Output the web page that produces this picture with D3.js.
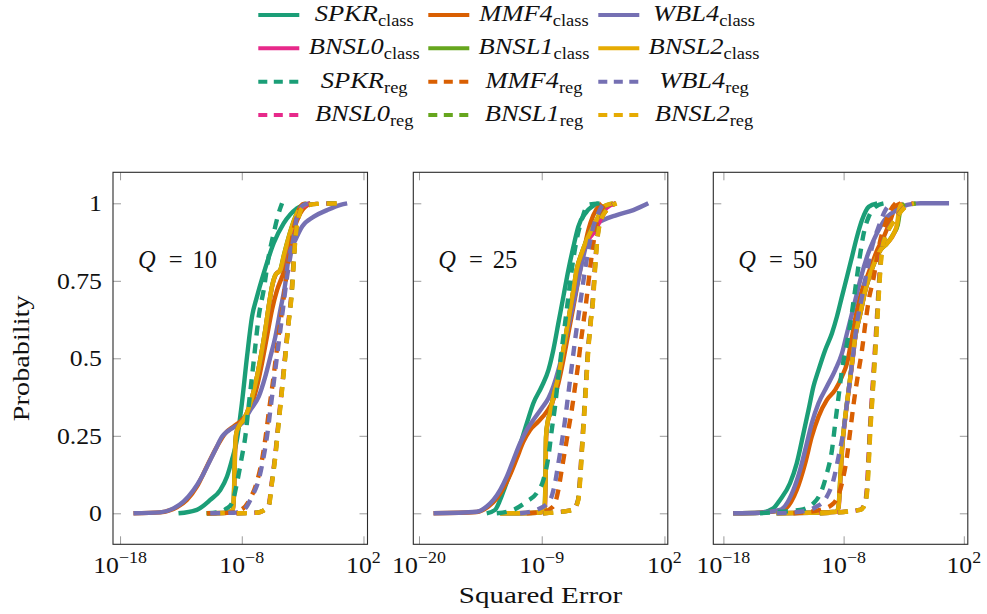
<!DOCTYPE html>
<html>
<head>
<meta charset="utf-8">
<script src="https://cdn.jsdelivr.net/npm/d3@7"></script>
<style>
  body { margin: 0; background: #fff; }
  svg { display: block; }
</style>
</head>
<body>
<svg id="chart" width="987" height="614"></svg>
<script>
// ---- data: empirical CDFs, points are [log10(squared error), probability] ----
const qValues = [10, 25, 50];
const methods = ["SPKR", "MMF4", "WBL4", "BNSL0", "BNSL1", "BNSL2"];
const kinds = ["class", "reg"];
const methodColors = ["#1b9e77", "#d95f02", "#7570b3", "#e7298a", "#66a61e", "#e6ab02"];
const yTickValues = [0, 0.25, 0.5, 0.75, 1];
const yTickLabels = ["0", "0.25", "0.5", "0.75", "1"];
const xTickExponents = [[-18, -8, 2], [-20, -9, 2], [-18, -8, 2]];
const xRangeExponents = [[-18.58, 2.33], [-20.51, 2.30], [-18.84, 2.33]];

// Q = 10
const q10_SPKR_class = [[-13.2,0],[-11.69,0.011],[-10.59,0.043],[-9.77,0.075],[-9.22,0.118],[-8.81,0.172],[-8.40,0.237],[-7.99,0.355],[-7.57,0.505],[-7.16,0.634],[-6.75,0.699],[-6.20,0.774],[-5.38,0.871],[-4.56,0.935],[-3.46,0.984],[-2.36,1]];
const q10_MMF4_class = [[-16.9,0],[-14.71,0.003],[-13.34,0.019],[-12.51,0.043],[-11.69,0.086],[-10.87,0.151],[-10.04,0.215],[-9.36,0.258],[-8.67,0.280],[-7.99,0.301],[-7.30,0.339],[-6.75,0.409],[-6.34,0.484],[-5.93,0.570],[-5.52,0.656],[-5.10,0.720],[-4.69,0.763],[-4.42,0.796],[-4.15,0.849],[-3.73,0.914],[-3.19,0.968],[-2.36,1]];
const q10_WBL4_class = [[-16.9,0],[-14.71,0.003],[-13.61,0.016],[-12.79,0.038],[-11.96,0.075],[-11.28,0.118],[-10.73,0.161],[-10.18,0.204],[-9.63,0.247],[-9.22,0.263],[-8.53,0.280],[-7.99,0.290],[-7.30,0.333],[-6.61,0.376],[-6.07,0.441],[-5.65,0.505],[-5.24,0.570],[-4.83,0.656],[-4.42,0.742],[-4.14,0.828],[-3.59,0.882],[-3.04,0.925],[-2.08,0.957],[-0.99,0.978],[0.11,0.995],[0.66,1]];
const q10_BNSL0_class = [[-10.8,0],[-9.2,0.002],[-8.72,0.012],[-8.61,0.09],[-8.55,0.196],[-8.44,0.26],[-8.16,0.287],[-7.83,0.303],[-7.28,0.358],[-6.73,0.444],[-6.32,0.53],[-6.05,0.594],[-5.77,0.67],[-5.5,0.733],[-5.21,0.77],[-4.8,0.787],[-4.52,0.83],[-4.24,0.873],[-3.83,0.927],[-3.25,0.979],[-2.4,1]];
const q10_BNSL1_class = [[-10.9,0],[-9.25,0.002],[-8.74,0.01],[-8.63,0.084],[-8.57,0.192],[-8.46,0.256],[-8.19,0.284],[-7.86,0.3],[-7.31,0.353],[-6.76,0.439],[-6.35,0.525],[-6.08,0.589],[-5.8,0.665],[-5.53,0.73],[-5.25,0.768],[-4.85,0.784],[-4.58,0.827],[-4.3,0.87],[-3.9,0.924],[-3.36,0.977],[-2.7,1]];
const q10_BNSL2_class = [[-10.87,0],[-9.22,0.002],[-8.73,0.011],[-8.62,0.086],[-8.56,0.194],[-8.45,0.258],[-8.18,0.285],[-7.85,0.301],[-7.30,0.355],[-6.75,0.441],[-6.34,0.527],[-6.07,0.591],[-5.79,0.667],[-5.52,0.731],[-5.24,0.769],[-4.83,0.785],[-4.56,0.828],[-4.28,0.871],[-3.87,0.925],[-3.32,0.978],[-2.64,1]];
const q10_SPKR_reg = [[-10.87,0],[-9.77,0.005],[-9.22,0.016],[-8.81,0.032],[-8.40,0.097],[-7.99,0.183],[-7.71,0.247],[-7.44,0.344],[-7.16,0.441],[-6.89,0.538],[-6.61,0.634],[-6.20,0.720],[-5.79,0.828],[-5.38,0.903],[-4.97,0.968],[-4.69,1]];
const q10_MMF4_reg = [[-10.87,0],[-8.95,0.002],[-7.99,0.013],[-7.30,0.048],[-6.75,0.102],[-6.34,0.172],[-6.04,0.247],[-5.76,0.333],[-5.46,0.419],[-5.19,0.505],[-4.91,0.591],[-4.61,0.677],[-4.34,0.763],[-4.06,0.839],[-3.79,0.903],[-3.46,0.962],[-2.91,0.998],[-2.5,1]];
const q10_WBL4_reg = [[-10.59,0],[-8.67,0.002],[-7.85,0.011],[-7.16,0.054],[-6.61,0.108],[-6.20,0.183],[-5.93,0.247],[-5.65,0.333],[-5.38,0.419],[-5.11,0.505],[-4.83,0.591],[-4.56,0.677],[-4.28,0.763],[-4.01,0.828],[-3.73,0.892],[-3.46,0.957],[-2.91,0.995],[-2.36,1]];
const q10_BNSL0_reg = [[-8.45,0],[-6.78,0.002],[-5.82,0.022],[-5.55,0.097],[-5.27,0.183],[-5.0,0.290],[-4.72,0.398],[-4.45,0.505],[-4.18,0.613],[-3.9,0.720],[-3.76,0.806],[-3.63,0.882],[-3.35,0.957],[-2.95,0.989],[-1.9,0.998],[0.3,1]];
const q10_BNSL1_reg = [[-8.42,0],[-6.76,0.002],[-5.8,0.022],[-5.53,0.097],[-5.25,0.183],[-4.98,0.290],[-4.7,0.398],[-4.43,0.505],[-4.16,0.613],[-3.88,0.720],[-3.74,0.806],[-3.61,0.882],[-3.33,0.957],[-2.93,0.989],[-1.85,0.998],[0.33,1]];
const q10_BNSL2_reg = [[-8.40,0],[-6.75,0.002],[-5.79,0.022],[-5.52,0.097],[-5.24,0.183],[-4.97,0.290],[-4.69,0.398],[-4.42,0.505],[-4.15,0.613],[-3.87,0.720],[-3.73,0.806],[-3.60,0.882],[-3.32,0.957],[-2.91,0.989],[-1.81,0.998],[0.38,1]];

// Q = 25
const q25_SPKR_class = [[-13.93,0],[-13.18,0.011],[-12.73,0.043],[-12.28,0.086],[-11.84,0.129],[-11.09,0.204],[-10.34,0.290],[-9.75,0.355],[-9.0,0.409],[-8.40,0.462],[-7.96,0.527],[-7.51,0.613],[-7.06,0.699],[-6.61,0.785],[-6.16,0.860],[-5.72,0.925],[-4.97,0.973],[-3.93,1]];
const q25_MMF4_class = [[-18.7,0],[-14.82,0.004],[-13.78,0.022],[-13.03,0.048],[-12.43,0.081],[-11.84,0.124],[-11.24,0.177],[-10.64,0.231],[-10.04,0.269],[-9.30,0.296],[-8.55,0.328],[-7.96,0.366],[-7.51,0.419],[-7.06,0.495],[-6.61,0.581],[-6.16,0.667],[-5.72,0.753],[-5.27,0.839],[-4.82,0.914],[-4.37,0.962],[-3.63,1]];
const q25_WBL4_class = [[-18.7,0],[-14.82,0.005],[-13.93,0.022],[-13.33,0.043],[-12.73,0.075],[-12.13,0.118],[-11.54,0.172],[-10.94,0.226],[-10.34,0.269],[-9.75,0.301],[-9.0,0.339],[-8.40,0.371],[-7.96,0.409],[-7.51,0.462],[-7.06,0.527],[-6.61,0.602],[-6.16,0.677],[-5.72,0.753],[-5.27,0.828],[-4.82,0.892],[-4.37,0.925],[-3.48,0.946],[-2.28,0.962],[-0.79,0.978],[0.55,1]];
const q25_BNSL0_class = [[-12.7,0],[-9.43,0.002],[-8.74,0.006],[-8.66,0.088],[-8.6,0.25],[-8.47,0.292],[-8.23,0.325],[-7.94,0.378],[-7.49,0.443],[-7.04,0.529],[-6.74,0.593],[-6.44,0.658],[-6.14,0.722],[-5.85,0.787],[-5.4,0.84],[-4.93,0.878],[-4.2,0.912],[-3.7,0.95],[-3.2,0.985],[-2.4,1]];
const q25_BNSL1_class = [[-12.75,0],[-9.47,0.002],[-8.78,0.006],[-8.68,0.085],[-8.62,0.245],[-8.5,0.289],[-8.26,0.322],[-7.97,0.375],[-7.52,0.44],[-7.07,0.526],[-6.77,0.59],[-6.47,0.655],[-6.17,0.719],[-5.88,0.784],[-5.43,0.838],[-4.98,0.881],[-4.4,0.924],[-3.95,0.956],[-3.5,0.988],[-2.62,1]];
const q25_BNSL2_class = [[-12.73,0],[-9.45,0.002],[-8.76,0.006],[-8.67,0.086],[-8.61,0.247],[-8.49,0.290],[-8.25,0.323],[-7.96,0.376],[-7.51,0.441],[-7.06,0.527],[-6.76,0.591],[-6.46,0.656],[-6.16,0.720],[-5.87,0.785],[-5.42,0.839],[-4.97,0.882],[-4.37,0.925],[-3.93,0.957],[-3.48,0.989],[-2.58,1]];
const q25_SPKR_reg = [[-13.03,0],[-11.54,0.011],[-10.34,0.038],[-9.45,0.065],[-8.85,0.108],[-8.40,0.183],[-8.10,0.269],[-7.81,0.344],[-7.51,0.441],[-7.21,0.527],[-6.91,0.613],[-6.61,0.699],[-6.31,0.785],[-5.87,0.882],[-5.42,0.946],[-4.82,0.995],[-3.78,1]];
const q25_MMF4_reg = [[-10.34,0],[-8.85,0.005],[-7.96,0.022],[-7.51,0.075],[-7.21,0.140],[-6.91,0.204],[-6.61,0.269],[-6.31,0.333],[-6.01,0.409],[-5.72,0.484],[-5.51,0.548],[-5.27,0.613],[-5.03,0.677],[-4.82,0.742],[-4.61,0.806],[-4.37,0.871],[-4.13,0.925],[-3.78,0.968],[-3.18,1]];
const q25_WBL4_reg = [[-10.94,0],[-9.45,0.011],[-8.25,0.043],[-7.81,0.097],[-7.51,0.161],[-7.21,0.226],[-6.91,0.301],[-6.61,0.387],[-6.31,0.473],[-6.01,0.559],[-5.72,0.634],[-5.42,0.710],[-5.12,0.785],[-4.82,0.849],[-4.37,0.925],[-3.93,0.968],[-3.48,0.995],[-2.88,1]];
const q25_BNSL0_reg = [[-8.9,0],[-6.2,0.011],[-5.75,0.043],[-5.6,0.097],[-5.45,0.183],[-5.3,0.269],[-5.15,0.355],[-5.0,0.441],[-4.85,0.527],[-4.64,0.613],[-4.4,0.699],[-4.25,0.785],[-4.1,0.860],[-3.82,0.935],[-3.22,0.978],[-2.35,1]];
const q25_BNSL1_reg = [[-8.87,0],[-6.18,0.011],[-5.74,0.043],[-5.59,0.097],[-5.44,0.183],[-5.29,0.269],[-5.14,0.355],[-4.99,0.441],[-4.84,0.527],[-4.63,0.613],[-4.39,0.699],[-4.24,0.785],[-4.09,0.860],[-3.8,0.935],[-3.2,0.978],[-2.32,1]];
const q25_BNSL2_reg = [[-8.85,0],[-6.16,0.011],[-5.72,0.043],[-5.57,0.097],[-5.42,0.183],[-5.27,0.269],[-5.12,0.355],[-4.97,0.441],[-4.82,0.527],[-4.61,0.613],[-4.37,0.699],[-4.22,0.785],[-4.07,0.860],[-3.78,0.935],[-3.18,0.978],[-2.28,1]];

// Q = 50
const q50_SPKR_class = [[-17.19,0],[-14.96,0.002],[-13.85,0.016],[-13.29,0.043],[-12.46,0.097],[-11.90,0.161],[-11.34,0.258],[-10.92,0.333],[-10.51,0.409],[-10.09,0.462],[-9.53,0.527],[-8.97,0.581],[-8.56,0.634],[-8.14,0.699],[-7.72,0.763],[-7.30,0.828],[-6.89,0.892],[-6.47,0.946],[-5.91,0.989],[-5.21,1]];
const q50_MMF4_class = [[-17.19,0],[-14.96,0.002],[-13.01,0.011],[-11.90,0.075],[-11.20,0.161],[-10.65,0.247],[-10.09,0.312],[-9.39,0.366],[-8.70,0.398],[-8.14,0.441],[-7.72,0.484],[-7.30,0.570],[-6.89,0.656],[-6.47,0.720],[-6.05,0.763],[-5.63,0.806],[-5.21,0.849],[-4.66,0.892],[-4.10,0.946],[-3.68,0.989],[-3.26,1]];
const q50_WBL4_class = [[-17.19,0],[-14.96,0.002],[-13.29,0.011],[-12.18,0.075],[-11.62,0.140],[-11.06,0.226],[-10.65,0.290],[-10.09,0.355],[-9.39,0.409],[-8.70,0.462],[-8.14,0.516],[-7.72,0.581],[-7.30,0.645],[-6.89,0.710],[-6.47,0.774],[-6.05,0.828],[-5.49,0.882],[-4.94,0.925],[-4.38,0.957],[-3.54,0.978],[-2.71,0.995],[-1.59,1],[0.77,1]];
const q50_BNSL0_class = [[-13.5,0],[-10.75,0.002],[-8.54,0.005],[-8.4,0.024],[-8.26,0.11],[-8.12,0.206],[-7.84,0.314],[-7.56,0.4],[-7.28,0.486],[-7.01,0.572],[-6.59,0.647],[-6.17,0.722],[-5.75,0.776],[-5.33,0.819],[-4.92,0.85],[-4.35,0.873],[-3.78,0.905],[-3.5,0.937],[-3.36,0.979],[-3.08,1]];
const q50_BNSL1_class = [[-13.6,0],[-10.8,0.002],[-8.58,0.005],[-8.43,0.021],[-8.29,0.106],[-8.15,0.202],[-7.87,0.31],[-7.59,0.396],[-7.31,0.482],[-7.04,0.568],[-6.62,0.643],[-6.2,0.718],[-5.78,0.772],[-5.36,0.815],[-4.95,0.848],[-4.4,0.87],[-3.85,0.902],[-3.5,0.93],[-3.3,0.975],[-2.95,1]];
const q50_BNSL2_class = [[-13.57,0],[-10.79,0.002],[-8.56,0.005],[-8.42,0.022],[-8.28,0.108],[-8.14,0.204],[-7.86,0.312],[-7.58,0.398],[-7.30,0.484],[-7.03,0.570],[-6.61,0.645],[-6.19,0.720],[-5.77,0.774],[-5.35,0.817],[-4.94,0.849],[-4.38,0.871],[-3.82,0.903],[-3.54,0.935],[-3.40,0.978],[-3.13,1]];
const q50_SPKR_reg = [[-14.96,0],[-13.29,0.005],[-11.62,0.011],[-10.51,0.032],[-9.81,0.075],[-9.39,0.129],[-8.97,0.204],[-8.70,0.290],[-8.42,0.376],[-8.14,0.462],[-7.72,0.548],[-7.44,0.613],[-7.16,0.688],[-6.89,0.763],[-6.61,0.839],[-6.33,0.903],[-5.91,0.957],[-5.35,0.989],[-4.66,1]];
const q50_MMF4_reg = [[-12.18,0],[-9.95,0.011],[-8.84,0.032],[-8.14,0.097],[-7.72,0.183],[-7.44,0.269],[-7.16,0.355],[-6.83,0.441],[-6.47,0.527],[-6.19,0.613],[-5.91,0.688],[-5.49,0.763],[-5.21,0.828],[-4.94,0.882],[-4.52,0.935],[-4.10,0.978],[-3.68,1]];
const q50_WBL4_reg = [[-13.57,0],[-11.62,0.005],[-10.23,0.022],[-9.39,0.054],[-8.84,0.108],[-8.42,0.183],[-8.0,0.269],[-7.72,0.355],[-7.44,0.441],[-7.16,0.527],[-6.89,0.613],[-6.47,0.699],[-6.05,0.785],[-5.63,0.860],[-5.08,0.925],[-4.52,0.978],[-3.96,1]];
const q50_BNSL0_reg = [[-10.0,0],[-6.66,0.011],[-6.24,0.032],[-6.04,0.097],[-5.93,0.183],[-5.82,0.269],[-5.68,0.355],[-5.54,0.441],[-5.4,0.527],[-5.26,0.613],[-5.13,0.699],[-4.99,0.785],[-4.85,0.849],[-4.57,0.892],[-4.15,0.925],[-3.6,0.957],[-2.9,0.989],[-2.2,1]];
const q50_BNSL1_reg = [[-9.97,0],[-6.63,0.011],[-6.21,0.032],[-6.01,0.097],[-5.9,0.183],[-5.79,0.269],[-5.65,0.355],[-5.51,0.441],[-5.37,0.527],[-5.23,0.613],[-5.1,0.699],[-4.96,0.785],[-4.82,0.849],[-4.54,0.892],[-4.12,0.925],[-3.57,0.957],[-2.87,0.989],[-2.0,1]];
const q50_BNSL2_reg = [[-9.95,0],[-6.61,0.011],[-6.19,0.032],[-5.99,0.097],[-5.88,0.183],[-5.77,0.269],[-5.63,0.355],[-5.49,0.441],[-5.35,0.527],[-5.21,0.613],[-5.08,0.699],[-4.94,0.785],[-4.80,0.849],[-4.52,0.892],[-4.10,0.925],[-3.54,0.957],[-2.85,0.989],[-2.15,1]];

const panelSeries = [
  { class: [q10_SPKR_class, q10_MMF4_class, q10_WBL4_class, q10_BNSL0_class, q10_BNSL1_class, q10_BNSL2_class],
    reg:   [q10_SPKR_reg, q10_MMF4_reg, q10_WBL4_reg, q10_BNSL0_reg, q10_BNSL1_reg, q10_BNSL2_reg] },
  { class: [q25_SPKR_class, q25_MMF4_class, q25_WBL4_class, q25_BNSL0_class, q25_BNSL1_class, q25_BNSL2_class],
    reg:   [q25_SPKR_reg, q25_MMF4_reg, q25_WBL4_reg, q25_BNSL0_reg, q25_BNSL1_reg, q25_BNSL2_reg] },
  { class: [q50_SPKR_class, q50_MMF4_class, q50_WBL4_class, q50_BNSL0_class, q50_BNSL1_class, q50_BNSL2_class],
    reg:   [q50_SPKR_reg, q50_MMF4_reg, q50_WBL4_reg, q50_BNSL0_reg, q50_BNSL1_reg, q50_BNSL2_reg] }
];

// ---- layout ----
const FONT = "'Liberation Serif', 'Times New Roman', serif";
const svg = d3.select("#chart");
const panelLeft = [113, 413.3, 713.3];
const panelWidth = 254.5;
const plotTop = 172.3, plotBottom = 544.3;
const lineWidth = 4.4;
const plotDash = "10,8";
const legendDash = "9,6.5";
const tickLen = 8;
const tickColor = "#9a9a9a";

const y = d3.scaleLinear().domain([-0.1, 1.1]).range([plotBottom, plotTop]);

// widen the serif glyphs toward wider TeX-like proportions
function stretch(sel, k) {
  sel.each(function () {
    const w = this.getComputedTextLength();
    d3.select(this).attr("textLength", w * k).attr("lengthAdjust", "spacingAndGlyphs");
  });
}
function addText(parent) {
  return parent.append("text").attr("font-family", FONT).attr("fill", "#111");
}

const defs = svg.append("defs");

qValues.forEach((q, pi) => {
  const left = panelLeft[pi];
  const x = d3.scaleLog()
    .domain(xRangeExponents[pi].map(e => Math.pow(10, e)))
    .range([left, left + panelWidth]);

  const g = svg.append("g").attr("class", "panel");

  defs.append("clipPath").attr("id", "clip" + pi)
    .append("rect").attr("x", left).attr("y", plotTop)
    .attr("width", panelWidth).attr("height", plotBottom - plotTop);

  // tick marks on all four sides, pointing inward
  const xt = xTickExponents[pi].map(e => Math.pow(10, e));
  const axes = [
    [d3.axisBottom(x).tickValues(xt).tickSize(-tickLen), `translate(0,${plotBottom})`],
    [d3.axisTop(x).tickValues(xt).tickSize(-tickLen), `translate(0,${plotTop})`],
    [d3.axisLeft(y).tickValues(yTickValues).tickSize(-tickLen), `translate(${left},0)`],
    [d3.axisRight(y).tickValues(yTickValues).tickSize(-tickLen), `translate(${left + panelWidth},0)`]
  ];
  axes.forEach(([ax, tr]) => {
    const a = g.append("g").attr("transform", tr).call(ax.tickFormat(""));
    a.select(".domain").remove();
    a.selectAll(".tick line").attr("stroke", tickColor).attr("stroke-width", 1);
  });

  // curves
  const line = d3.line()
    .x(d => x(Math.pow(10, d[0])))
    .y(d => y(d[1]))
    .curve(d3.curveMonotoneX);
  const curves = g.append("g").attr("clip-path", `url(#clip${pi})`);
  kinds.forEach(kind => {
    panelSeries[pi][kind].forEach((data, mi) => {
      curves.append("path")
        .attr("d", line(data))
        .attr("fill", "none")
        .attr("stroke", methodColors[mi])
        .attr("stroke-width", lineWidth)
        .attr("stroke-linejoin", "round")
        .attr("stroke-dasharray", kind === "reg" ? plotDash : null);
    });
  });

  // frame
  g.append("rect")
    .attr("x", left).attr("y", plotTop)
    .attr("width", panelWidth).attr("height", plotBottom - plotTop)
    .attr("fill", "none").attr("stroke", "#2a2a2a").attr("stroke-width", 1.1);

  // x tick labels 10^k
  xTickExponents[pi].forEach(e => {
    const t = addText(g)
      .attr("x", x(Math.pow(10, e))).attr("y", 573)
      .attr("text-anchor", "middle").attr("font-size", 23);
    t.append("tspan").text("10");
    t.append("tspan").attr("font-size", 16).attr("dy", -10)
      .text(e < 0 ? "\u2212" + Math.abs(e) : String(e));
    stretch(t, 1.12);
  });

  // y tick labels on the first panel only
  if (pi === 0) {
    yTickValues.forEach((v, i) => {
      const t = addText(g)
        .attr("x", left - 11).attr("y", y(v) + 8)
        .attr("text-anchor", "end").attr("font-size", 23)
        .text(yTickLabels[i]);
      stretch(t, 1.12);
    });
  }

  // Q label
  const ql = addText(g)
    .attr("x", left + 25).attr("y", y(0.79))
    .attr("font-size", 24.5);
  ql.append("tspan").attr("font-style", "italic").text("Q");
  ql.append("tspan").attr("dx", 13).text("=");
  ql.append("tspan").attr("dx", 10).text(String(q));
});

// axis titles
const yTitle = addText(svg)
  .attr("transform", `translate(29,${y(0.5)}) rotate(-90)`)
  .attr("text-anchor", "middle").attr("font-size", 23)
  .text("Probability");
stretch(yTitle, 1.23);

const xTitle = addText(svg)
  .attr("x", panelLeft[1] + panelWidth / 2).attr("y", 603)
  .attr("text-anchor", "middle").attr("font-size", 23)
  .text("Squared Error");
stretch(xTitle, 1.26);

// ---- legend: 3 columns, entries in series order ----
const legendEntries = [];
kinds.forEach(kind => methods.forEach((m, mi) => legendEntries.push({ name: m, kind, color: methodColors[mi] })));
const legendRowY = [15, 48.3, 81.7, 115];
const legendLineX = [258.3, 428.3, 598.3];
const legendLineLen = 41;
const legendTextX = [364.2, 534, 704];

const legend = svg.append("g").attr("class", "legend");
legendEntries.forEach((d, i) => {
  const row = Math.floor(i / 3), col = i % 3;
  const ly = legendRowY[row];
  legend.append("line")
    .attr("x1", legendLineX[col]).attr("x2", legendLineX[col] + legendLineLen)
    .attr("y1", ly).attr("y2", ly)
    .attr("stroke", d.color).attr("stroke-width", 4)
    .attr("stroke-dasharray", d.kind === "reg" ? legendDash : null);
  const t = addText(legend)
    .attr("x", legendTextX[col]).attr("y", ly + 6)
    .attr("text-anchor", "middle").attr("font-size", 23);
  t.append("tspan").attr("font-style", "italic").text(d.name);
  t.append("tspan").attr("font-size", 16).attr("dy", 5).text(d.kind);
  stretch(t, 1.15);
});
</script>
</body>
</html>
